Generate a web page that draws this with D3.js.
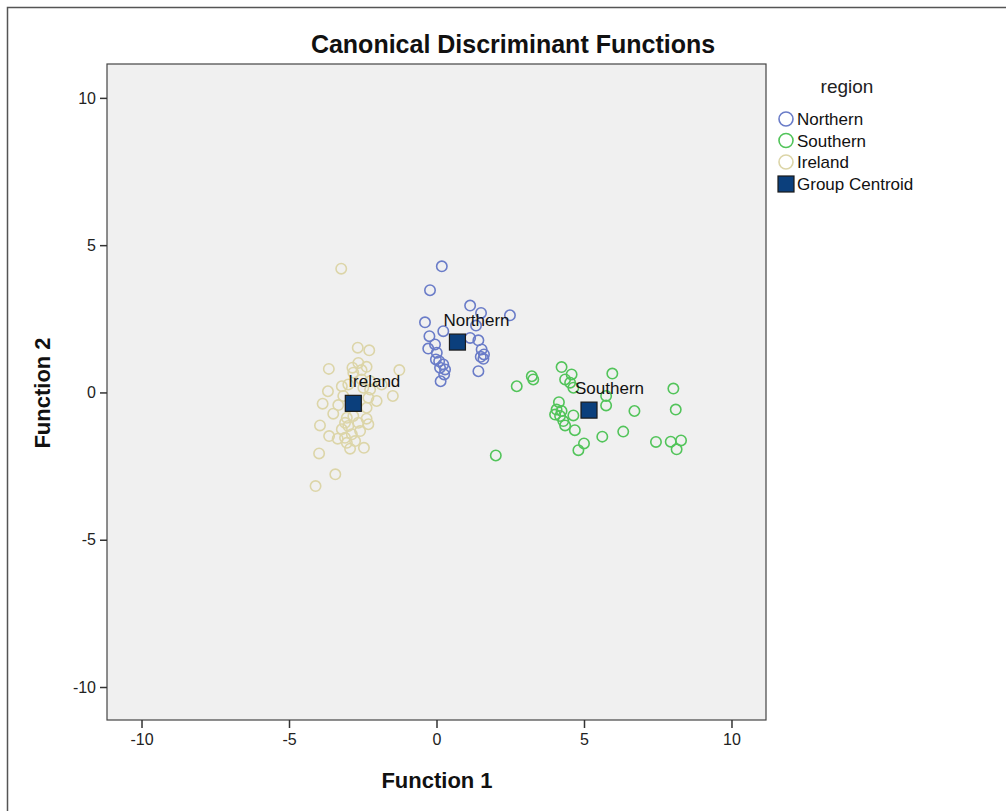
<!DOCTYPE html>
<html><head><meta charset="utf-8">
<script src="https://cdn.jsdelivr.net/npm/d3@7"></script>
<style>body{margin:0;background:#fff;font-family:"Liberation Sans",Arial,sans-serif;}</style>
</head><body>
<svg id="chart" width="1006" height="811"></svg>
<script>
const xTicks = [-10, -5, 0, 5, 10];
const yTicks = [-10, -5, 0, 5, 10];
const groups = ["Northern", "Southern", "Ireland"];
const groupColors = ["#6a7cc8", "#52c45a", "#dcd5a8"];

const irelandX = [-3.23,-2.67,-2.28,-3.65,-1.26,-2.85,-2.65,-2.37,-2.54,-1.48,-2.03,-3.68,-3.21,-3.86,-3.33,-3.50,-2.37,-3.95,-3.64,-3.35,-2.59,-2.87,-3.04,-2.93,-2.46,-3.98,-3.43,-4.10,-2.25,-2.31,-2.37,-3.10,-3.21,-2.99,-2.82,-3.16,-2.48,-2.76,-3.10,-2.54,-2.82,-2.99,-2.25,-1.86,-2.31,-2.65,-3.04];
const irelandY = [4.20,1.52,1.43,0.80,0.76,0.84,1.00,0.87,0.76,-0.12,-0.29,0.04,0.21,-0.38,-0.43,-0.72,-0.89,-1.12,-1.48,-1.57,-1.31,-1.42,-1.71,-1.91,-1.88,-2.07,-2.78,-3.18,0.10,-0.18,-0.52,-1.03,-1.25,-1.14,-0.80,-0.12,0.16,-1.65,-1.54,0.44,0.67,0.27,0.38,0.27,-1.08,-1.03,-0.86];

const northernX = [0.18,-0.22,1.14,1.51,2.49,1.34,-0.39,0.23,-0.24,-0.05,-0.28,1.14,1.42,0.01,1.53,1.61,1.50,1.59,0.09,0.23,0.12,0.26,1.42,0.14,-0.02,0.29];
const northernY = [4.28,3.47,2.95,2.70,2.62,2.27,2.38,2.08,1.91,1.63,1.49,1.85,1.77,1.35,1.46,1.29,1.21,1.14,1.06,0.95,0.84,0.61,0.72,0.38,1.12,0.78];

const southernX = [2.01,2.72,3.23,3.28,4.24,4.58,4.36,4.53,4.64,5.96,8.03,8.11,6.71,5.75,5.75,4.15,4.07,4.24,4.02,4.64,4.30,4.36,4.69,6.33,5.62,5.00,4.81,7.44,7.94,8.29,8.14,4.19];
const southernY = [-2.14,0.21,0.55,0.44,0.86,0.61,0.44,0.33,0.16,0.64,0.13,-0.58,-0.63,-0.12,-0.44,-0.33,-0.58,-0.63,-0.75,-0.78,-0.97,-1.12,-1.28,-1.33,-1.50,-1.73,-1.96,-1.68,-1.67,-1.63,-1.93,-0.80];

const centroidNames = ["Northern", "Southern", "Ireland"];
const centroidX = [0.71, 5.17, -2.82];
const centroidY = [1.71, -0.60, -0.37];

const svg = d3.select("#chart");
const L = 107, R = 766, T = 64, B = 720;
const x = d3.scaleLinear().domain([-11.17, 11.17]).range([L, R]);
const y = d3.scaleLinear().domain([-11.12, 11.15]).range([B, T]);

// outer frame
svg.append("path").attr("d", "M7.5,820 V7.5 H1010").attr("fill", "none").attr("stroke", "#555").attr("stroke-width", 1.5);

// title
svg.append("text").attr("x", 513).attr("y", 53).attr("text-anchor", "middle")
  .attr("font-size", 25).attr("font-weight", "bold").attr("fill", "#111").text("Canonical Discriminant Functions");

// plot background
svg.append("rect").attr("x", L).attr("y", T).attr("width", R - L).attr("height", B - T)
  .attr("fill", "#f0f0f0").attr("stroke", "#444").attr("stroke-width", 1.2);

// axes
const fmt = d => String(d);
const xAxis = svg.append("g").attr("transform", `translate(0,${B})`)
  .call(d3.axisBottom(x).tickValues(xTicks).tickSize(8).tickPadding(6).tickFormat(fmt));
const yAxis = svg.append("g").attr("transform", `translate(${L},0)`)
  .call(d3.axisLeft(y).tickValues(yTicks).tickSize(7).tickPadding(4).tickFormat(fmt));
[xAxis, yAxis].forEach(a => {
  a.select(".domain").remove();
  a.selectAll(".tick line").attr("stroke", "#333").attr("stroke-width", 1.5);
  a.selectAll(".tick text").attr("font-size", 16).attr("fill", "#222").attr("font-family", "Liberation Sans, Arial, sans-serif");
});

// axis titles
svg.append("text").attr("x", 437).attr("y", 788).attr("text-anchor", "middle")
  .attr("font-size", 22).attr("font-weight", "bold").attr("fill", "#111").text("Function 1");
svg.append("text").attr("transform", "translate(50,393) rotate(-90)").attr("text-anchor", "middle")
  .attr("font-size", 22).attr("font-weight", "bold").attr("fill", "#111").text("Function 2");

// points
const series = [
  {xs: northernX, ys: northernY, c: groupColors[0]},
  {xs: southernX, ys: southernY, c: groupColors[1]},
  {xs: irelandX, ys: irelandY, c: groupColors[2]}
];
const pts = svg.append("g");
[2, 0, 1].forEach(i => {
  const s = series[i];
  pts.selectAll(null).data(s.xs.map((v, k) => [v, s.ys[k]])).enter().append("circle")
    .attr("cx", d => x(d[0])).attr("cy", d => y(d[1])).attr("r", 5.2)
    .attr("fill", "none").attr("stroke", s.c).attr("stroke-width", 1.6);
});

// centroids
const cg = svg.append("g");
centroidNames.forEach((n, i) => {
  cg.append("rect").attr("x", x(centroidX[i]) - 8).attr("y", y(centroidY[i]) - 8)
    .attr("width", 16).attr("height", 16).attr("fill", "#0b3f7c").attr("stroke", "#1a1a1a").attr("stroke-width", 1.2);
});
centroidNames.forEach((n, i) => {
  cg.append("text").attr("x", x(centroidX[i]) + (n === "Ireland" ? -5 : -14)).attr("y", y(centroidY[i]) - 16)
    .attr("font-size", 17).attr("fill", "#111").text(n);
});

// legend
const lg = svg.append("g");
lg.append("text").attr("x", 847).attr("y", 93).attr("text-anchor", "middle").attr("font-size", 19).attr("fill", "#222").text("region");
groups.forEach((g, i) => {
  const cy = 119 + i * 21.5;
  lg.append("circle").attr("cx", 786).attr("cy", cy).attr("r", 7).attr("fill", "none").attr("stroke", groupColors[i]).attr("stroke-width", 1.6);
  lg.append("text").attr("x", 797).attr("y", cy + 6).attr("font-size", 17).attr("fill", "#111").text(g);
});
lg.append("rect").attr("x", 778).attr("y", 176).attr("width", 16).attr("height", 16).attr("fill", "#0b3f7c").attr("stroke", "#1a1a1a").attr("stroke-width", 1.2);
lg.append("text").attr("x", 797).attr("y", 190).attr("font-size", 17).attr("fill", "#111").text("Group Centroid");
</script>
</body></html>
